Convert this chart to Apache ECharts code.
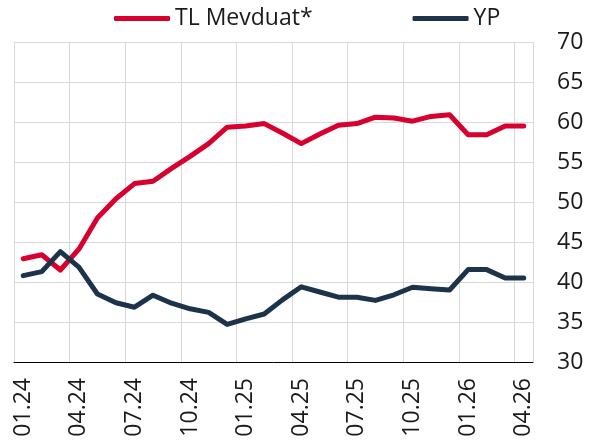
<!DOCTYPE html>
<html>
<head>
<meta charset="utf-8">
<script src="https://cdn.jsdelivr.net/npm/echarts@6/dist/echarts.min.js"></script>
<style>
  html, body { margin: 0; padding: 0; background: #fff; }
  #chart { width: 599px; height: 443px; }
</style>
</head>
<body>
<div id="chart"></div>
<script>
// months 01.24 .. 04.26
var categories = ['01.24', '02.24', '03.24', '04.24', '05.24', '06.24', '07.24', '08.24', '09.24', '10.24',
  '11.24', '12.24', '01.25', '02.25', '03.25', '04.25', '05.25', '06.25', '07.25', '08.25',
  '09.25', '10.25', '11.25', '12.25', '01.26', '02.26', '03.26', '04.26'];
var tlValues = [42.9, 43.4, 41.5, 44.1, 48.0, 50.4, 52.3, 52.6, 54.2, 55.7,
  57.3, 59.35, 59.5, 59.8, 58.6, 57.3, 58.5, 59.6, 59.8, 60.6,
  60.5, 60.1, 60.7, 60.9, 58.4, 58.4, 59.5, 59.5];
var ypValues = [40.8, 41.3, 43.8, 41.85, 38.5, 37.4, 36.85, 38.35, 37.35, 36.65,
  36.2, 34.7, 35.4, 36.0, 37.8, 39.4, 38.75, 38.1, 38.1, 37.7,
  38.4, 39.35, 39.15, 39.0, 41.55, 41.55, 40.5, 40.5];
var seriesNames = ['TL Mevduat*', 'YP'];
var yTicks = { min: 30, max: 70, interval: 5 };

var chart = echarts.init(document.getElementById('chart'));
var font = "'Open Sans', 'Noto Sans', sans-serif";
var option = {
  animation: false,
  textStyle: { fontFamily: font },
  legend: {
    top: 2,
    left: 109,
    icon: 'roundRect',
    itemWidth: 56,
    itemHeight: 5,
    itemGap: 100,
    textStyle: { fontSize: 23, color: '#1a1a1a', fontFamily: font },
    data: seriesNames
  },
  grid: { left: 14, right: 66, top: 42, bottom: 81, containLabel: false },
  xAxis: {
    type: 'category',
    data: categories,
    boundaryGap: true,
    axisLine: { show: true, lineStyle: { color: '#000', width: 1 } },
    axisTick: { show: false },
    axisLabel: {
      interval: 2,
      rotate: 90,
      margin: 16,
      fontSize: 23,
      color: '#1a1a1a',
      fontFamily: font
    },
    splitLine: { show: true, interval: 2, lineStyle: { color: '#d9d9d9', width: 1 } }
  },
  yAxis: {
    type: 'value',
    position: 'right',
    min: yTicks.min,
    max: yTicks.max,
    interval: yTicks.interval,
    axisLine: { show: false },
    axisTick: { show: false },
    axisLabel: { fontSize: 23, color: '#1a1a1a', margin: 24, fontFamily: font },
    splitLine: { show: true, lineStyle: { color: '#d9d9d9', width: 1 } }
  },
  series: [
    {
      name: seriesNames[0],
      type: 'line',
      data: tlValues,
      symbol: 'none',
      color: '#d7002f',
      lineStyle: { width: 5, color: '#d7002f', cap: 'round', join: 'round' }
    },
    {
      name: seriesNames[1],
      type: 'line',
      data: ypValues,
      symbol: 'none',
      color: '#1c3349',
      lineStyle: { width: 5, color: '#1c3349', cap: 'round', join: 'round' }
    }
  ]
};
chart.setOption(option);
</script>
</body>
</html>
